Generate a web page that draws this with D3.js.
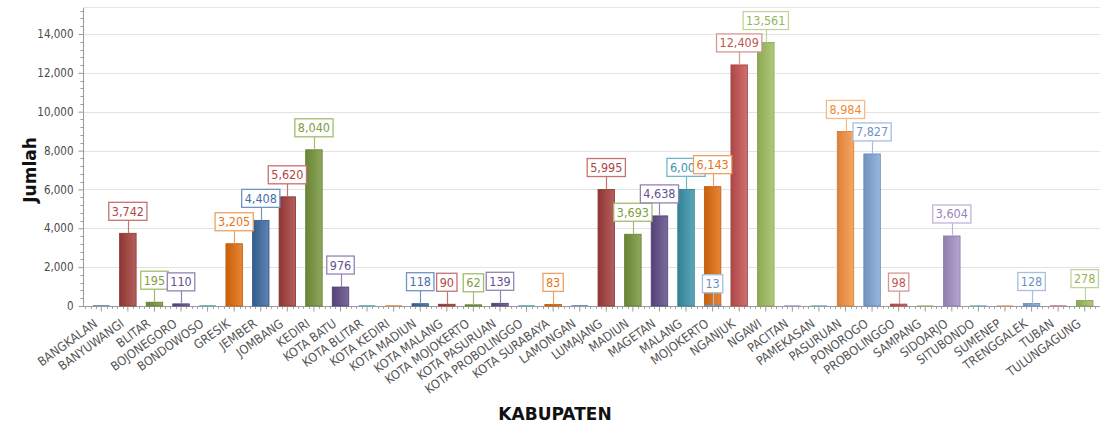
<!DOCTYPE html>
<html>
<head>
<meta charset="utf-8">
<script src="https://cdn.jsdelivr.net/npm/d3@7"></script>
<style>
  html, body { margin: 0; padding: 0; background: #ffffff; }
  svg { display: block; }
</style>
</head>
<body>
<svg id="chart" width="1105" height="426"></svg>
<script>
// ---- data ----
const categories = ["BANGKALAN","BANYUWANGI","BLITAR","BOJONEGORO","BONDOWOSO","GRESIK","JEMBER","JOMBANG","KEDIRI","KOTA BATU","KOTA BLITAR","KOTA KEDIRI","KOTA MADIUN","KOTA MALANG","KOTA MOJOKERTO","KOTA PASURUAN","KOTA PROBOLINGGO","KOTA SURABAYA","LAMONGAN","LUMAJANG","MADIUN","MAGETAN","MALANG","MOJOKERTO","NGANJUK","NGAWI","PACITAN","PAMEKASAN","PASURUAN","PONOROGO","PROBOLINGGO","SAMPANG","SIDOARJO","SITUBONDO","SUMENEP","TRENGGALEK","TUBAN","TULUNGAGUNG"];
const values = [0,3742,195,110,0,3205,4408,5620,8040,976,0,0,118,90,62,139,0,83,0,5995,3693,4638,6004,6143,12409,13561,0,0,8984,7827,98,0,3604,0,0,128,0,278];
// an extra point that shares the MOJOKERTO position (series #24 in drawing order)
const extraCategories = ["MOJOKERTO"];
const extraValues = [13];
const extraSeriesIndex = [24];
const yTicks = [0,2000,4000,6000,8000,10000,12000,14000];
const yTitle = "Jumlah";
const xTitle = "KABUPATEN";

// palette: first 24 series darker, later series lighter
const darkBar  = ["#3a69a2","#a33d3b","#76953a","#5f4a87","#3793ab","#e36c0a"];
const darkText = ["#4470a8","#b04543","#7e9c40","#65508f","#3a98b0","#e8741a"];
const darkLine = ["#6f93c2","#c77270","#a1bd6c","#9383b5","#6fb8cc","#f0a060"];
const lightBar  = ["#80a6d6","#c4514f","#9dbe5c","#a291c5","#4bacc6","#f7923e"];
const lightText = ["#6f92c4","#c05654","#94b55a","#9484bb","#4aa8c2","#f08a3a"];
const lightLine = ["#a6bfe0","#d89593","#bfd498","#c0b4da","#8fcbdc","#f9b888"];

// ---- build series list in drawing order ----
const points = categories.map((c, i) => ({cat: c, value: values[i]}));
extraCategories.forEach((c, k) => {
  points.splice(extraSeriesIndex[k], 0, {cat: c, value: extraValues[k]});
});
points.forEach((p, i) => {
  const light = i >= 24;
  const k = i % 6;
  p.bar = light ? lightBar[k] : darkBar[k];
  p.text = light ? lightText[k] : darkText[k];
  p.line = light ? lightLine[k] : darkLine[k];
  p.idx = i;
});

const svg = d3.select("#chart");
const pLeft = 83, pRight = 1100, pTop = 7, pBottom = 306;
const font = "'DejaVu Sans Condensed','DejaVu Sans',sans-serif";

const x = d3.scaleBand().domain(categories).range([88, 1098]).paddingInner(0).paddingOuter(0);
const y = d3.scaleLinear().domain([0, 15390]).range([pBottom, pTop]);
const barW = 16.5;

// defs: gradients
const defs = svg.append("defs");
points.forEach(p => {
  const g = defs.append("linearGradient").attr("id", "g" + p.idx)
    .attr("x1", "0%").attr("x2", "100%").attr("y1", "0%").attr("y2", "0%");
  const base = d3.color(p.bar);
  g.append("stop").attr("offset", "0%").attr("stop-color", base.darker(0.35).formatHex());
  g.append("stop").attr("offset", "100%").attr("stop-color", d3.interpolateRgb(p.bar, "#ffffff")(0.18));
});

// gridlines
svg.append("g").selectAll("line").data(yTicks).join("line")
  .attr("x1", pLeft).attr("x2", pRight)
  .attr("y1", d => Math.round(y(d)) + 0.5).attr("y2", d => Math.round(y(d)) + 0.5)
  .attr("stroke", "#e3e3e3").attr("stroke-width", 1);
svg.append("line").attr("x1", pLeft).attr("x2", pRight).attr("y1", pTop + 0.5).attr("y2", pTop + 0.5)
  .attr("stroke", "#e6e6e6");

// y axis
const yAxis = d3.axisLeft(y).tickValues(yTicks).tickFormat(d3.format(",")).tickSize(5).tickPadding(5);
const gy = svg.append("g").attr("transform", `translate(${pLeft + 0.5},0)`).call(yAxis);
gy.select(".domain").remove();
gy.selectAll(".tick line").attr("stroke", "#9a9a9a");
gy.selectAll(".tick text").attr("fill", "#4a4a4a").style("font-family", font).style("font-size", "11.5px");
svg.append("line").attr("x1", pLeft + 0.5).attr("x2", pLeft + 0.5).attr("y1", pTop + 1).attr("y2", pBottom + 1)
  .attr("stroke", "#9a9a9a");
// y minor ticks
const yMinor = d3.range(0, 15390, 400).filter(v => v % 2000 !== 0);
svg.append("g").selectAll("line").data(yMinor).join("line")
  .attr("x1", pLeft - 2.5).attr("x2", pLeft)
  .attr("y1", d => Math.round(y(d)) + 0.5).attr("y2", d => Math.round(y(d)) + 0.5)
  .attr("stroke", "#9a9a9a");

// x axis
svg.append("line").attr("x1", pLeft).attr("x2", pRight).attr("y1", pBottom + 0.5).attr("y2", pBottom + 0.5)
  .attr("stroke", "#9a9a9a");
const xAxis = d3.axisBottom(x).tickSize(5).tickPadding(4).tickSizeOuter(0);
const gx = svg.append("g").attr("transform", `translate(0,${pBottom + 0.5})`).call(xAxis);
gx.select(".domain").remove();
gx.selectAll(".tick line").attr("stroke", "#9a9a9a");
gx.selectAll(".tick text")
  .attr("fill", "#555")
  .style("font-family", font)
  .style("font-size", "12.5px")
  .attr("text-anchor", "end")
  .attr("dy", "0")
  .attr("y", 0)
  .attr("transform", "translate(-3,19) rotate(-36)");
// x minor ticks
const step = x.step();
const xMinor = [];
categories.forEach((c, i) => {
  const cx = x(c) + x.bandwidth() / 2;
  for (let k = 1; k < 5; k++) xMinor.push(cx + k * step / 5);
  if (i === 0) for (let k = 1; k < 5; k++) xMinor.push(cx - k * step / 5);
});
svg.append("g").selectAll("line").data(xMinor.filter(v => v > pLeft && v < pRight)).join("line")
  .attr("x1", d => Math.round(d) + 0.5).attr("x2", d => Math.round(d) + 0.5)
  .attr("y1", pBottom + 1).attr("y2", pBottom + 3)
  .attr("stroke", "#a8a8a8");

// bars
const bars = svg.append("g");
points.forEach(p => {
  const cx = x(p.cat) + x.bandwidth() / 2;
  const y0 = y(0), y1 = y(p.value);
  const h = Math.max(1, y0 - y1);
  bars.append("rect")
    .attr("x", cx - barW / 2).attr("y", y0 - h)
    .attr("width", barW).attr("height", h)
    .attr("fill", p.value > 0 ? `url(#g${p.idx})` : p.line)
    .attr("stroke", p.value > 0 ? d3.color(p.bar).darker(0.5).formatHex() : "none")
    .attr("stroke-width", 0.8);
});

// labels
const labels = svg.append("g");
const fmt = d3.format(",");
points.filter(p => p.value > 0).forEach(p => {
  const cx = x(p.cat) + x.bandwidth() / 2;
  const yTop = y(p.value);
  const boxBottom = yTop - 13;
  const boxH = 18;
  const g = labels.append("g");
  g.append("line").attr("x1", Math.round(cx) + 0.5).attr("x2", Math.round(cx) + 0.5)
    .attr("y1", yTop).attr("y2", boxBottom).attr("stroke", p.line).attr("stroke-width", 1.2);
  const t = g.append("text").text(fmt(p.value))
    .attr("x", cx).attr("y", boxBottom - 4.5)
    .attr("text-anchor", "middle")
    .attr("fill", p.text)
    .style("font-family", font)
    .style("font-size", "12.5px");
  const w = t.node().getComputedTextLength() + 6;
  g.insert("rect", "text")
    .attr("x", cx - w / 2).attr("y", boxBottom - boxH)
    .attr("width", w).attr("height", boxH)
    .attr("fill", "#ffffff").attr("stroke", p.line).attr("stroke-width", 1.3);
});

// titles
svg.append("text").text(yTitle)
  .attr("transform", "translate(36,170) rotate(-90)")
  .attr("text-anchor", "middle")
  .attr("fill", "#111")
  .style("font-family", "'DejaVu Sans','Verdana',sans-serif")
  .style("font-weight", "bold").style("font-size", "17px");
svg.append("text").text(xTitle)
  .attr("x", 555).attr("y", 420)
  .attr("text-anchor", "middle")
  .attr("fill", "#111")
  .style("font-family", "'DejaVu Sans','Verdana',sans-serif")
  .style("font-weight", "bold").style("font-size", "17px");
</script>
</body>
</html>
